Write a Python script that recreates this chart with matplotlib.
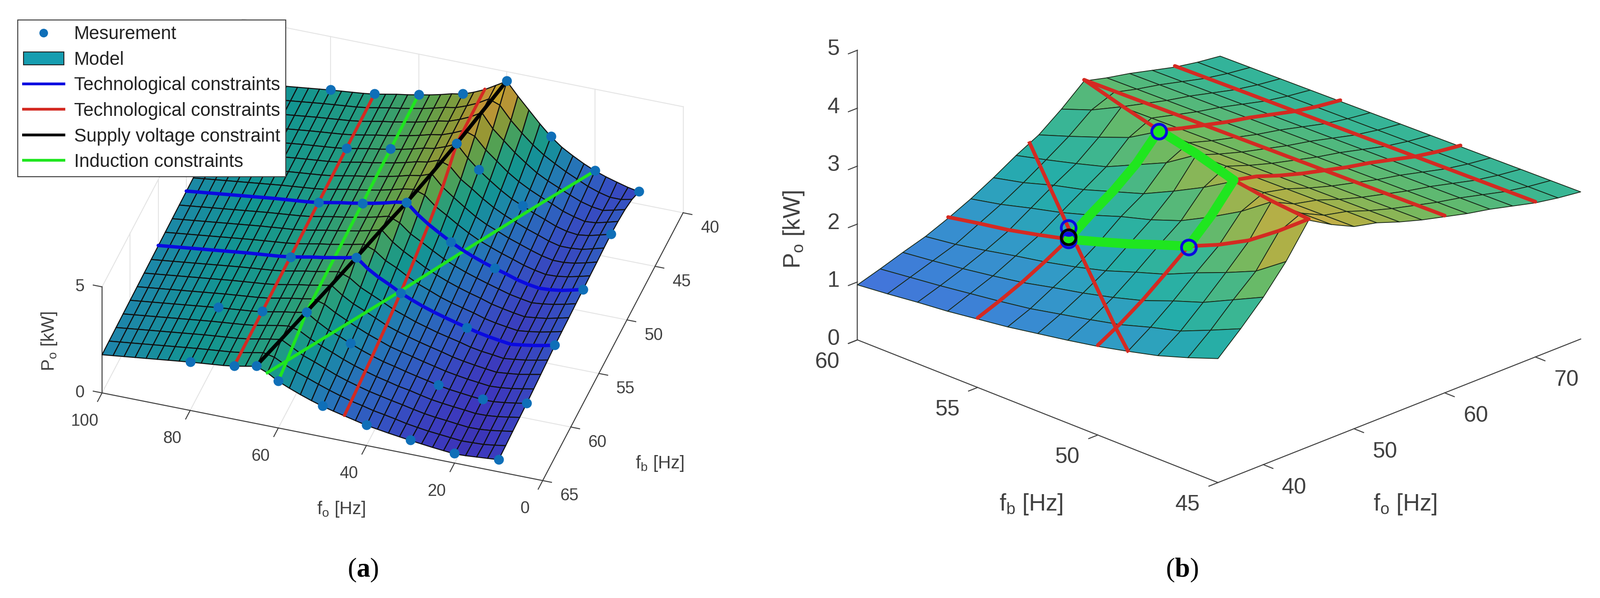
import matplotlib
matplotlib.use('Agg')
import matplotlib.pyplot as plt
import numpy as np
from matplotlib.colors import LinearSegmentedColormap
from matplotlib.lines import Line2D
from matplotlib.patches import Patch
from mpl_toolkits.mplot3d import proj3d

W, H = 3606, 1347
plt.rcParams['font.family'] = ['Liberation Sans', 'DejaVu Sans']
plt.rcParams['mathtext.fontset'] = 'custom'
plt.rcParams['mathtext.rm'] = 'Liberation Sans'
plt.rcParams['mathtext.it'] = 'Liberation Sans'
plt.rcParams['mathtext.bf'] = 'Liberation Serif:bold'
plt.rcParams['mathtext.default'] = 'regular'

# surface, Po [kW]
fo_grid = [100, 97.5, 95, 92.5, 90, 87.5, 85, 82.5, 80, 77.5, 75, 72.5, 70, 67.5, 65, 62.5, 60, 57.5, 55,
           52.5, 50, 47.5, 45, 42.5, 40, 37.5, 35, 32.5, 30, 27.5, 25, 22.5, 20, 17.5, 15, 12.5, 10]
fb_grid = [65, 63.75, 62.5, 61.25, 60, 58.75, 57.5, 56.25, 55, 53.75, 52.5, 51.25, 50, 48.75, 47.5, 46.25,
           45, 43.75, 42.5, 41.25, 40]
# above the ridge (fo >= fb) the power follows fo, with a small lift per fb row
above_ridge = [1.8, 1.86, 1.92, 1.98, 2.04, 2.1, 2.16, 2.22, 2.28, 2.33, 2.38, 2.43, 2.5, 2.6, 2.7, 2.78, 2.88,
               2.98, 3.1, 3.24, 3.33, 3.52, 3.75, 4.05, 4.35]
fb_lift = [0, .01, .02, .03, .04, .05, .06, .07, .08, .09, .10, .11, .12, .13, .14, .15, .16, .17, .18, .19, .2]
below_ridge = [
    [2.5, 2.2, 1.98, 1.78, 1.6, 1.44, 1.31, 1.19, 1.07, .95, .87, .79, .72, .65, .59, .53, .48, .43, .45, .49, .53, .57],
    [2.6, 2.34, 2.12, 1.93, 1.74, 1.56, 1.4, 1.25, 1.14, 1.01, .92, .82, .71, .63, .56, .51, .46, .41, .43, .45, .52, .6],
    [2.53, 2.25, 2.06, 1.85, 1.64, 1.47, 1.32, 1.18, 1.07, .96, .86, .75, .65, .58, .53, .47, .42, .43, .48, .56, .64],
    [2.69, 2.41, 2.18, 1.97, 1.75, 1.56, 1.4, 1.25, 1.13, 1.0, .91, .79, .68, .61, .55, .5, .44, .45, .5, .58, .67],
    [2.59, 2.3, 2.1, 1.87, 1.66, 1.48, 1.32, 1.2, 1.07, .95, .84, .72, .63, .57, .51, .46, .47, .53, .61, .7],
    [2.78, 2.48, 2.23, 1.99, 1.77, 1.58, 1.39, 1.26, 1.13, 1.0, .88, .76, .67, .59, .53, .47, .5, .56, .65, .75],
    [2.67, 2.37, 2.15, 1.91, 1.67, 1.49, 1.33, 1.19, 1.06, .94, .8, .7, .62, .55, .49, .54, .6, .7, .8],
    [2.87, 2.52, 2.28, 2.04, 1.79, 1.6, 1.41, 1.26, 1.11, .99, .87, .73, .64, .58, .51, .57, .64, .74, .85],
    [2.76, 2.45, 2.2, 1.92, 1.7, 1.5, 1.33, 1.18, 1.04, .91, .78, .68, .6, .53, .6, .68, .78, .9],
    [3.0, 2.62, 2.38, 2.08, 1.82, 1.62, 1.41, 1.25, 1.11, .98, .82, .71, .63, .56, .62, .7, .81, .93],
    [2.87, 2.53, 2.25, 1.96, 1.73, 1.52, 1.34, 1.18, 1.04, .87, .76, .66, .58, .64, .71, .83, .95],
    [3.14, 2.72, 2.44, 2.14, 1.86, 1.63, 1.43, 1.26, 1.1, .95, .8, .7, .61, .66, .74, .85, .98],
    [2.99, 2.62, 2.31, 2.01, 1.75, 1.53, 1.34, 1.17, 1.02, .85, .73, .65, .68, .75, .87, 1.0],
    [3.29, 2.85, 2.54, 2.21, 1.91, 1.65, 1.45, 1.26, 1.09, .91, .78, .68, .7, .78, .9, 1.03],
    [3.13, 2.75, 2.39, 2.05, 1.78, 1.57, 1.35, 1.17, .99, .83, .72, .72, .79, .91, 1.05],
    [3.5, 2.98, 2.64, 2.27, 1.95, 1.69, 1.47, 1.26, 1.08, .89, .76, .76, .81, .94, 1.08],
    [3.35, 2.89, 2.5, 2.14, 1.83, 1.6, 1.37, 1.17, .96, .82, .76, .83, .96, 1.1],
    [3.74, 3.2, 2.78, 2.36, 2.02, 1.74, 1.5, 1.28, 1.04, .88, .76, .8, .93, 1.07],
    [3.57, 3.11, 2.65, 2.26, 1.9, 1.63, 1.4, 1.17, .96, .82, .75, .87, 1.0],
    [4.05, 3.44, 2.94, 2.49, 2.11, 1.81, 1.53, 1.29, 1.05, .87, .74, .74, .85],
    [3.95, 3.4, 2.85, 2.35, 1.95, 1.65, 1.38, 1.15, .97, .82, .68, .58],
]
# induction limit across the fb rows
induction_fb = [65, 60, 55, 50, 45, 40]
induction_fo = [62.5, 54, 45.5, 37, 28.5, 20]
induction_po = [2.5, 2.22, 1.94, 1.72, 1.46, 1.15]
measured = {
    65: [80, 70, 65, 60, 50, 40, 30, 20, 10],
    60: [80, 70, 60, 50, 30, 20, 10],
    55: [70, 55, 45, 30, 10],
    50: [70, 60, 50, 40, 30, 10],
    45: [70, 60, 45, 40, 30, 10],
    40: [80, 70, 60, 50, 40, 30, 20, 10],
}

parula_colors = ['#3e26a8', '#4840f0', '#3c69f8', '#2c8bed', '#1fa8d8', '#10bcb7',
                 '#2cc79b', '#6bcc5f', '#bdbf3c', '#fbbb3e', '#f9fb15']
BLUE, RED, BLACK, GREEN = '#0a0ae0', '#d42a22', '#000000', '#1fe61f'
GRAY = '#404040'


def toned(dark, gray):
    # the dense mesh and the jpeg blur mute the reference colours
    c = matplotlib.colors.to_rgba_array(parula_colors)[:, :3]
    return LinearSegmentedColormap.from_list('parula', (c * (1 - gray) + .6 * gray) * dark)


Z = []
for i, row in enumerate(below_ridge):
    n = len(fo_grid) - len(row)
    Z.append([v + fb_lift[i] for v in above_ridge[:n]] + row)
Z = np.array(Z)
FO, FB = np.meshgrid(fo_grid, fb_grid)


def z_at(fo, fb):
    return Z[fb_grid.index(fb), fo_grid.index(fo)]


def cols(lo, hi):
    return [f for f in fo_grid if lo <= f <= hi]


def rows(lo, hi):
    return [f for f in fb_grid if lo <= f <= hi]


def path(ax, fo, fb, color, lw, zorder=3):
    ax.plot(fo, fb, [z_at(a, b) + .02 for a, b in zip(fo, fb)], color=color, lw=lw, zorder=zorder,
            solid_capstyle='round')


def along_fb(ax, fo, lo, hi, color, lw):
    r = rows(lo, hi)
    path(ax, [fo] * len(r), r, color, lw)


def along_fo(ax, fb, lo, hi, color, lw):
    c = cols(lo, hi)
    path(ax, c, [fb] * len(c), color, lw)


def to_px(ax, x, y, z):
    a, b, _ = proj3d.proj_transform(x, y, z, ax.get_proj())
    return ax.transData.transform((a, b))


def place(ax, aspect, p0, p1, px0, px1):
    # scale and shift the 3d box so that two of its corners land on the reference pixels
    ax.set_box_aspect(aspect)
    fig.canvas.draw()
    got = to_px(ax, *p1) - to_px(ax, *p0)
    ax.set_box_aspect(aspect, zoom=np.hypot(px1[0] - px0[0], px1[1] - px0[1]) / np.hypot(*got))
    fig.canvas.draw()
    now = to_px(ax, *p0)
    box = ax.get_position(original=True)
    ax.set_position([box.x0 + (px0[0] - now[0]) / W, box.y0 + (H - px0[1] - now[1]) / H, box.width, box.height])
    ax.apply_aspect()
    fig.canvas.draw()


def label_at(ax, x, y, z, dx, dy, text, size):
    p = to_px(ax, x, y, z)
    fig.text((p[0] + dx) / W, (p[1] - dy) / H, text, fontsize=size, color=GRAY, ha='center', va='center')


def seg(ax, x, y, z, color=GRAY, lw=1.6, zorder=1):
    ax.plot(x, y, z, color=color, lw=lw, zorder=zorder)


fig = plt.figure(figsize=(W / 100, H / 100), dpi=100)

# (a)
ax = fig.add_axes([(830 - 900) / W, (450 - 900 + 600) / H, 1800 / W, 1800 / H], projection='3d',
                  proj_type='ortho', computed_zorder=False)
ax.view_init(elev=38, azim=107.9)
ax.set_xlim(0, 100)
ax.set_ylim(40, 65)
ax.set_zlim(0, 5)
ax.set_axis_off()
place(ax, (1043, 1029, 303), (100, 65, 0), (0, 65, 0), (230, 885), (1223, 1083))

LIGHT = '#e4e4e4'
for f in [0, 20, 40, 60, 80, 100]:
    seg(ax, [f, f], [65, 40], [0, 0], LIGHT, 1.5)
    seg(ax, [f, f], [40, 40], [0, 5], LIGHT, 1.5)
for f in [40, 45, 50, 55, 60, 65]:
    seg(ax, [0, 100], [f, f], [0, 0], LIGHT, 1.5)
    seg(ax, [100, 100], [f, f], [0, 5], LIGHT, 1.5)
seg(ax, [0, 100], [40, 40], [5, 5], LIGHT, 1.5)
seg(ax, [100, 100], [40, 65], [5, 5], LIGHT, 1.5)

ax.plot_surface(FO, FB, Z, rstride=1, cstride=1, cmap=toned(.8, .05), vmin=0, vmax=4.6, edgecolor='#101010',
                linewidth=1.7, shade=False, antialiased=True, zorder=2)

along_fb(ax, 70, 40, 65, RED, 5)
along_fb(ax, 45, 40, 65, RED, 5)
along_fb(ax, 60, 40, 65, GREEN, 5)
ax.plot(induction_fo, induction_fb, induction_po, color=GREEN, lw=5, zorder=3)
along_fo(ax, 50, 10, 100, BLUE, 5.5)
along_fo(ax, 55, 10, 100, BLUE, 5.5)
ridge = [65, 62.5, 60, 57.5, 55, 52.5, 50, 47.5, 45, 42.5, 40]
path(ax, ridge, ridge, BLACK, 6)
for fb, fos in measured.items():
    ax.plot(fos, [fb] * len(fos), [z_at(f, fb) + .02 for f in fos], 'o', color='#0f6fb8', ms=16, mew=0, zorder=4)

seg(ax, [0, 100], [65, 65], [0, 0])
seg(ax, [0, 0], [40, 65], [0, 0])
seg(ax, [100, 100], [65, 65], [0, 5])
for f in [0, 20, 40, 60, 80, 100]:
    seg(ax, [f, f], [65, 65.8], [0, 0])
    label_at(ax, f, 65, 0, -40, 64, str(f), 27)
for f in [40, 45, 50, 55, 60, 65]:
    seg(ax, [0, -2], [f, f], [0, 0])
    label_at(ax, 0, f, 0, 60, 35, str(f), 27)
for f in [0, 5]:
    seg(ax, [100, 102], [65, 65], [f, f])
    label_at(ax, 100, 65, f, -50, 0, str(f), 27)
fig.text(769 / W, 1 - 1147 / H, r'f$_o$ [Hz]', fontsize=29, color=GRAY, ha='center', va='center')
fig.text(1487 / W, 1 - 1044 / H, r'f$_b$ [Hz]', fontsize=29, color=GRAY, ha='center', va='center')
fig.text(111 / W, 1 - 769 / H, r'P$_o$ [kW]', fontsize=29, color=GRAY, ha='center', va='center', rotation=90)

handles = [
    Line2D([], [], ls='none', marker='o', color='#0f6fb8', ms=14, mew=0),
    Patch(facecolor='#169db0', edgecolor='#222222', lw=1.5),
    Line2D([], [], color=BLUE, lw=4.5),
    Line2D([], [], color=RED, lw=4.5),
    Line2D([], [], color=BLACK, lw=4.5),
    Line2D([], [], color=GREEN, lw=4.5),
]
names = ['Mesurement', 'Model', 'Technological constraints', 'Technological constraints',
         'Supply voltage constraint', 'Induction constraints']
leg = fig.legend(handles, names, loc='upper left', bbox_to_anchor=(40 / W, 1 - 45 / H), borderaxespad=0,
                 fontsize=30, fancybox=False, framealpha=1, edgecolor=GRAY, handlelength=2.2, handletextpad=.55,
                 labelspacing=.42, borderpad=.3, labelcolor='#222222')
leg.get_frame().set_linewidth(1.6)

# (b)
bx = fig.add_axes([(2750 - 900) / W, (450 - 900 + 600) / H, 1800 / W, 1800 / H], projection='3d',
                  proj_type='ortho', computed_zorder=False)
bx.view_init(elev=23.3, azim=-135)
bx.set_xlim(35, 75)
bx.set_ylim(45, 60)
bx.set_zlim(0, 5)
bx.set_axis_off()
place(bx, (1157, 1150, 711), (35, 45, 0), (75, 45, 0), (2745, 1087), (3563, 765))

bi = [fb_grid.index(f) for f in rows(45, 60)]
bj = [fo_grid.index(f) for f in cols(35, 75)]
sub = np.ix_(bi, bj)
bx.plot_surface(FO[sub], FB[sub], Z[sub], rstride=1, cstride=1, cmap=toned(.95, .16), vmin=0, vmax=4.3,
                edgecolor='#1a2a1a', linewidth=1.3, shade=False, antialiased=True, zorder=2)

along_fb(bx, 70, 45, 60, RED, 6)
along_fb(bx, 60, 45, 60, RED, 6)
along_fb(bx, 45, 55, 60, RED, 6)
along_fb(bx, 45, 45, 50, RED, 6)
along_fo(bx, 55, 35, 45, RED, 6)
along_fo(bx, 55, 55, 75, RED, 6)
along_fo(bx, 50, 35, 45, RED, 6)
along_fo(bx, 50, 50, 75, RED, 6)
bx.plot(induction_fo[1:3] + [37, 35], induction_fb[1:3] + [50, 48.75], induction_po[1:3] + [1.72, 1.66], color=RED,
        lw=6, zorder=3)
path(bx, [60, 57.5, 55], [60, 57.5, 55], RED, 6)
path(bx, [50, 47.5, 45], [50, 47.5, 45], RED, 6)
# operating area
along_fo(bx, 55, 45, 55, GREEN, 15)
path(bx, [55, 52.5, 50], [55, 52.5, 50], GREEN, 15)
along_fo(bx, 50, 45, 50, GREEN, 15)
along_fb(bx, 45, 50, 55, GREEN, 15)
for fo, fb, dz, c in [(55, 55, 0, BLUE), (45, 50, 0, BLUE), (45, 55, .22, BLUE), (45, 55, 0, BLUE), (45, 55, .06, BLACK)]:
    bx.plot([fo], [fb], [z_at(fo, fb) + dz], 'o', mfc='none', mec=c, ms=24, mew=4.5, zorder=5)

seg(bx, [35, 75], [45, 45], [0, 0])
seg(bx, [35, 35], [45, 60], [0, 0])
seg(bx, [35, 35], [60, 60], [0, 5])
for f in [40, 50, 60, 70]:
    seg(bx, [f, f], [45, 44.6], [0, 0])
    label_at(bx, f, 45, 0, 70, 52, str(f), 36)
for f in [45, 50, 55, 60]:
    seg(bx, [35, 34], [f, f], [0, 0])
    label_at(bx, 35, f, 0, -68, 50, str(f), 36)
for f in [0, 1, 2, 3, 4, 5]:
    seg(bx, [35, 34], [60, 60], [f, f])
    label_at(bx, 35, 60, f, -54, -2, str(f), 36)
fig.text(2324 / W, 1 - 1136 / H, r'f$_b$ [Hz]', fontsize=38, color=GRAY, ha='center', va='center')
fig.text(3167 / W, 1 - 1136 / H, r'f$_o$ [Hz]', fontsize=38, color=GRAY, ha='center', va='center')
fig.text(1789 / W, 1 - 517 / H, r'P$_o$ [kW]', fontsize=38, color=GRAY, ha='center', va='center', rotation=90)

fig.text(818 / W, 1 - 1284 / H, r'($\mathbf{a}$)', fontsize=44, family='Liberation Serif', ha='center', va='center')
fig.text(2664 / W, 1 - 1284 / H, r'($\mathbf{b}$)', fontsize=44, family='Liberation Serif', ha='center', va='center')

fig.savefig('out.png', dpi=100)
